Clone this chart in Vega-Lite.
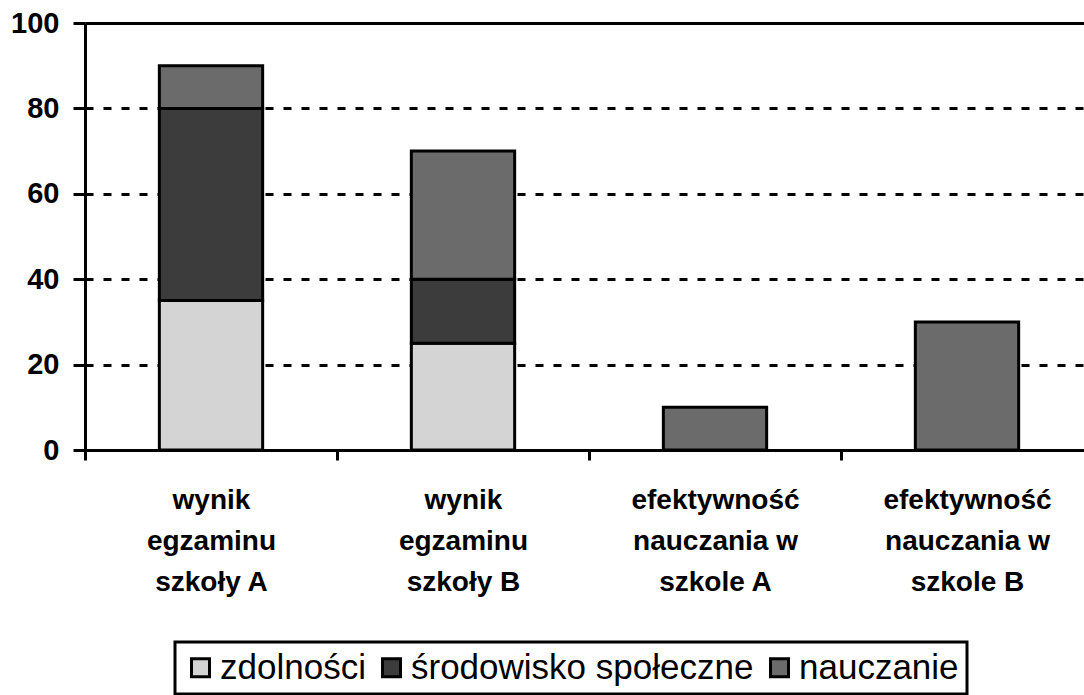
{
  "$schema": "https://vega.github.io/schema/vega-lite/v6.json",
  "autosize": "none",
  "padding": {"left": 85, "top": 23, "right": 0, "bottom": 245},
  "width": 999,
  "height": 427,
  "background": "white",
  "data": {
    "values": [
      {"kat": "wynik|egzaminu|szkoły A", "czynnik": "zdolności", "wartosc": 35, "kol": 1},
      {"kat": "wynik|egzaminu|szkoły A", "czynnik": "środowisko społeczne", "wartosc": 45, "kol": 2},
      {"kat": "wynik|egzaminu|szkoły A", "czynnik": "nauczanie", "wartosc": 10, "kol": 3},
      {"kat": "wynik|egzaminu|szkoły B", "czynnik": "zdolności", "wartosc": 25, "kol": 1},
      {"kat": "wynik|egzaminu|szkoły B", "czynnik": "środowisko społeczne", "wartosc": 15, "kol": 2},
      {"kat": "wynik|egzaminu|szkoły B", "czynnik": "nauczanie", "wartosc": 30, "kol": 3},
      {"kat": "efektywność|nauczania w|szkole A", "czynnik": "nauczanie", "wartosc": 10, "kol": 3},
      {"kat": "efektywność|nauczania w|szkole B", "czynnik": "nauczanie", "wartosc": 30, "kol": 3}
    ]
  },
  "mark": {"type": "bar", "stroke": "black", "strokeWidth": 3},
  "encoding": {
    "x": {
      "field": "kat",
      "type": "nominal",
      "sort": ["wynik|egzaminu|szkoły A", "wynik|egzaminu|szkoły B", "efektywność|nauczania w|szkole A", "efektywność|nauczania w|szkole B"],
      "scale": {"range": [0, 1008], "paddingInner": 0.59, "paddingOuter": 0.295},
      "axis": {
        "title": null,
        "labelAngle": 0,
        "labelExpr": "split(datum.label, '|')",
        "labelLineHeight": 41,
        "labelFont": "Liberation Sans",
        "labelFontSize": 28,
        "labelFontWeight": "bold",
        "labelColor": "black",
        "labelPadding": 26,
        "labelLimit": 0,
        "tickOffset": -126,
        "labelOffset": 126,
        "tickSize": 10,
        "tickWidth": 3,
        "tickColor": "black",
        "domainColor": "black",
        "domainWidth": 3,
        "grid": false
      }
    },
    "y": {
      "field": "wartosc",
      "type": "quantitative",
      "stack": "zero",
      "scale": {"domain": [0, 100], "nice": false},
      "axis": {
        "title": null,
        "values": [0, 20, 40, 60, 80, 100],
        "labelFont": "Liberation Sans",
        "labelFontSize": 29,
        "labelFontWeight": "bold",
        "labelColor": "black",
        "labelPadding": 14,
        "tickSize": 12,
        "tickWidth": 3,
        "tickColor": "black",
        "domainColor": "black",
        "domainWidth": 3,
        "grid": true,
        "gridColor": "black",
        "gridWidth": 3,
        "gridDash": {"condition": {"test": "datum.value === 100", "value": []}, "value": [8, 10]}
      }
    },
    "color": {
      "field": "czynnik",
      "type": "nominal",
      "scale": {
        "domain": ["zdolności", "środowisko społeczne", "nauczanie"],
        "range": ["#d4d4d4", "#3c3c3c", "#6b6b6b"]
      },
      "legend": {
        "title": null,
        "orient": "none",
        "legendX": 90,
        "legendY": 619,
        "direction": "horizontal",
        "symbolType": "square",
        "symbolSize": 324,
        "symbolStrokeColor": "black",
        "symbolStrokeWidth": 3,
        "symbolOpacity": 1,
        "labelFont": "Liberation Sans",
        "labelFontSize": 35,
        "labelColor": "black",
        "labelOffset": 2,
        "labelLimit": 0,
        "columnPadding": 8,
        "strokeColor": "black",
        "padding": 8
      }
    },
    "order": {"field": "kol", "type": "quantitative"}
  },
  "config": {
    "view": {"stroke": null},
    "legend": {"strokeWidth": 3}
  }
}
